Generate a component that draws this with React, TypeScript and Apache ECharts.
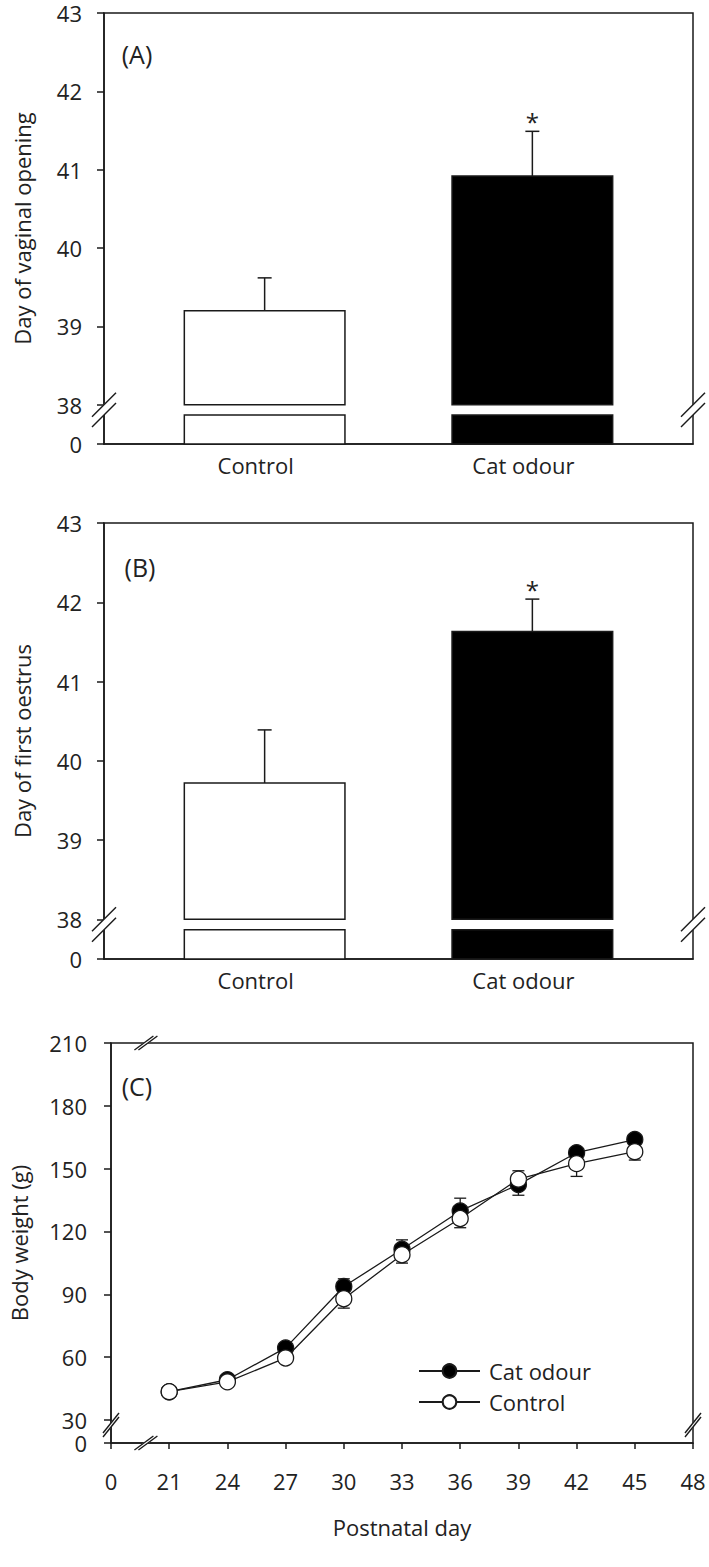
import React, { useEffect, useRef } from "react";
import * as echarts from "echarts";

// ---------- data ----------
const groups = ["Control", "Cat odour"];
const vaginalOpeningMean = [39.2, 40.92];
const vaginalOpeningSem = [0.42, 0.57];
const firstOestrusMean = [39.72, 41.63];
const firstOestrusSem = [0.67, 0.41];
const significant = [false, true];
const barTicks = [38, 39, 40, 41, 42, 43];

const days = [21, 24, 27, 30, 33, 36, 39, 42, 45];
const catWeight = [43.5, 49.2, 64.4, 93.7, 111.5, 129.8, 142.4, 157.6, 163.9];
const catSem = [1, 1.5, 2, 3.7, 4.5, 6.1, 5.1, 2, 2];
const controlWeight = [43.5, 48.2, 59.6, 87.9, 108.9, 126.2, 145, 152.4, 158.1];
const controlSem = [1, 1.5, 2, 4.5, 4, 4.4, 4, 6.1, 4];
const weightTicks = [30, 60, 90, 120, 150, 180, 210];
const dayTicks = [21, 24, 27, 30, 33, 36, 39, 42, 45, 48];

// ---------- display constants ----------
const FONT = '"Open Sans", "Noto Sans", sans-serif';
const INK = "#1a1a1a";
const TEXT = "#222";
const BAR_FILLS = ["#ffffff", "#000000"];

const BAR_AXIS_MIN = 37.5; // printed as "0" below the axis break
const BAR_AXIS_MAX = 43;
const BAR_BREAK_HIGH = 38;
const BAR_BREAK_LOW = 37.87;
const BAR_X_MIN = 0.4;
const BAR_X_MAX = 2.6;
const BAR_WIDTH = 0.6;

const W_AXIS_MIN = 19; // printed as "0"
const W_AXIS_MAX = 210;
const W_BREAK = 30;
const D_AXIS_MIN = 18; // printed as "0"
const D_AXIS_MAX = 48;
const D_BREAK = 19.8;

const lineSt = (w = 1.5) => ({ stroke: INK, lineWidth: w });

function slashPair(c1: number[], c2: number[], dx: number, dy: number) {
  return [
    {
      type: "polygon",
      shape: {
        points: [
          [c1[0] - dx, c1[1] + dy],
          [c1[0] + dx, c1[1] - dy],
          [c2[0] + dx, c2[1] - dy],
          [c2[0] - dx, c2[1] + dy],
        ],
      },
      style: { fill: "#ffffff", stroke: "#ffffff", lineWidth: 1 },
    },
    {
      type: "line",
      shape: { x1: c1[0] - dx, y1: c1[1] + dy, x2: c1[0] + dx, y2: c1[1] - dy },
      style: lineSt(1.4),
    },
    {
      type: "line",
      shape: { x1: c2[0] - dx, y1: c2[1] + dy, x2: c2[0] + dx, y2: c2[1] - dy },
      style: lineSt(1.4),
    },
  ];
}

function barPanel(
  idx: number,
  grid: any,
  means: number[],
  sems: number[],
  yName: string
) {
  const fmt = (v: number) =>
    Math.abs(v - BAR_AXIS_MIN) < 1e-6 ? "0" : String(Math.round(v));
  const xAxis = {
    type: "value",
    gridIndex: idx,
    min: BAR_X_MIN,
    max: BAR_X_MAX,
    splitLine: { show: false },
    axisLine: { show: true, lineStyle: { color: INK, width: 1.5 } },
    axisTick: { show: false },
    axisLabel: {
      customValues: [1, 2],
      formatter: (v: number) => groups[Math.round(v) - 1],
      color: TEXT,
      fontFamily: FONT,
      fontSize: 22,
      margin: 10,
      padding: [0, 18, 0, 0],
    },
  };
  const yAxis = {
    type: "value",
    gridIndex: idx,
    min: BAR_AXIS_MIN,
    max: BAR_AXIS_MAX,
    splitLine: { show: false },
    axisLine: { show: true, lineStyle: { color: INK, width: 1.5 } },
    axisTick: {
      show: true,
      inside: false,
      length: 7,
      customValues: [BAR_AXIS_MIN, ...barTicks],
      lineStyle: { color: INK, width: 1.5 },
    },
    axisLabel: {
      customValues: [BAR_AXIS_MIN, ...barTicks],
      formatter: fmt,
      color: TEXT,
      fontFamily: FONT,
      fontSize: 22,
      lineHeight: 20,
      margin: 22,
    },
    name: yName,
    nameLocation: "middle",
    nameRotate: 90,
    nameGap: 71,
    nameTextStyle: { color: TEXT, fontFamily: FONT, fontSize: 22 },
  };
  const barData = means.map((m, i) => [i + 1, m, sems[i], i]);
  const bars = {
    type: "custom",
    xAxisIndex: idx,
    yAxisIndex: idx,
    clip: false,
    z: 3,
    encode: { x: 0, y: 1 },
    data: barData,
    renderItem: (params: any, api: any) => {
      const x = api.value(0);
      const mean = api.value(1);
      const sem = api.value(2);
      const k = api.value(3);
      const top = api.coord([x, mean]);
      const hi = api.coord([x, BAR_BREAK_HIGH]);
      const lo = api.coord([x, BAR_BREAK_LOW]);
      const base = api.coord([x, BAR_AXIS_MIN]);
      const err = api.coord([x, mean + sem]);
      const w = api.size([BAR_WIDTH, 0])[0];
      const st = { fill: BAR_FILLS[k], stroke: INK, lineWidth: 1.5 };
      const children: any[] = [
        {
          type: "line",
          shape: { x1: top[0], y1: top[1], x2: top[0], y2: err[1] },
          style: lineSt(1.5),
        },
        {
          type: "line",
          shape: { x1: top[0] - 7, y1: err[1], x2: top[0] + 7, y2: err[1] },
          style: lineSt(1.5),
        },
        {
          type: "rect",
          shape: { x: top[0] - w / 2, y: top[1], width: w, height: hi[1] - top[1] },
          style: st,
        },
        {
          type: "rect",
          shape: { x: top[0] - w / 2, y: lo[1], width: w, height: base[1] - lo[1] },
          style: st,
        },
      ];
      if (significant[k]) {
        children.push({
          type: "text",
          style: {
            text: "*",
            x: top[0],
            y: err[1] - 10,
            align: "center",
            verticalAlign: "middle",
            fontFamily: FONT,
            fontSize: 24,
            fill: TEXT,
          },
        });
      }
      return { type: "group", children };
    },
  };
  const breaks = {
    type: "custom",
    xAxisIndex: idx,
    yAxisIndex: idx,
    clip: false,
    z: 4,
    silent: true,
    data: [[1, BAR_BREAK_HIGH]],
    renderItem: (params: any, api: any) => {
      const cs = params.coordSys;
      const yHi = api.coord([1, BAR_BREAK_HIGH])[1];
      const yLo = api.coord([1, BAR_BREAK_LOW])[1];
      const xl = cs.x;
      const xr = cs.x + cs.width;
      return {
        type: "group",
        children: [
          ...slashPair([xl, yHi], [xl, yLo], 12, 12),
          ...slashPair([xr, yHi], [xr, yLo], 12, 12),
        ],
      };
    },
  };
  return { grid, xAxis, yAxis, series: [bars, breaks] };
}

function buildOption() {
  const A = barPanel(
    0,
    { left: 104, top: 13, width: 589, height: 431 },
    vaginalOpeningMean,
    vaginalOpeningSem,
    "Day of vaginal opening"
  );
  const B = barPanel(
    1,
    { left: 104, top: 523, width: 589, height: 436 },
    firstOestrusMean,
    firstOestrusSem,
    "Day of first oestrus"
  );

  const gridC = { left: 104, top: 1043, width: 589, height: 400 };
  const xC = {
    type: "value",
    gridIndex: 2,
    min: D_AXIS_MIN,
    max: D_AXIS_MAX,
    splitLine: { show: false },
    axisLine: { show: true, lineStyle: { color: INK, width: 1.5 } },
    axisTick: {
      show: true,
      length: 6,
      customValues: [D_AXIS_MIN, ...dayTicks],
      lineStyle: { color: INK, width: 1.5 },
    },
    axisLabel: {
      customValues: [D_AXIS_MIN, ...dayTicks],
      formatter: (v: number) =>
        Math.abs(v - D_AXIS_MIN) < 1e-6 ? "0" : String(Math.round(v)),
      color: TEXT,
      fontFamily: FONT,
      fontSize: 22,
      margin: 27,
      hideOverlap: false,
    },
    name: "Postnatal day",
    nameLocation: "middle",
    nameGap: 73,
    nameTextStyle: { color: TEXT, fontFamily: FONT, fontSize: 22 },
  };
  const yC = {
    type: "value",
    gridIndex: 2,
    min: W_AXIS_MIN,
    max: W_AXIS_MAX,
    splitLine: { show: false },
    axisLine: { show: true, lineStyle: { color: INK, width: 1.5 } },
    axisTick: {
      show: true,
      length: 7,
      customValues: [W_AXIS_MIN, ...weightTicks],
      lineStyle: { color: INK, width: 1.5 },
    },
    axisLabel: {
      customValues: [W_AXIS_MIN, ...weightTicks],
      formatter: (v: number) =>
        Math.abs(v - W_AXIS_MIN) < 1e-6 ? "0" : String(Math.round(v)),
      color: TEXT,
      fontFamily: FONT,
      fontSize: 22,
      lineHeight: 20,
      margin: 24,
    },
    name: "Body weight (g)",
    nameLocation: "middle",
    nameRotate: 90,
    nameGap: 81,
    nameTextStyle: { color: TEXT, fontFamily: FONT, fontSize: 22 },
  };

  const errData: number[][] = [];
  days.forEach((d, i) => {
    const catUp = catWeight[i] >= controlWeight[i];
    errData.push([d, catWeight[i], catUp ? catSem[i] : -catSem[i]]);
    errData.push([d, controlWeight[i], catUp ? -controlSem[i] : controlSem[i]]);
  });
  const errSeries = {
    type: "custom",
    xAxisIndex: 2,
    yAxisIndex: 2,
    z: 1,
    silent: true,
    encode: { x: 0, y: 1 },
    data: errData,
    renderItem: (params: any, api: any) => {
      const x = api.value(0);
      const v = api.value(1);
      const e = api.value(2);
      const p = api.coord([x, v]);
      const q = api.coord([x, v + e]);
      return {
        type: "group",
        children: [
          { type: "line", shape: { x1: p[0], y1: p[1], x2: q[0], y2: q[1] }, style: lineSt(1.3) },
          { type: "line", shape: { x1: q[0] - 6, y1: q[1], x2: q[0] + 6, y2: q[1] }, style: lineSt(1.3) },
        ],
      };
    },
  };
  const catSeries = {
    name: "Cat odour",
    type: "line",
    xAxisIndex: 2,
    yAxisIndex: 2,
    z: 2,
    data: days.map((d, i) => [d, catWeight[i]]),
    symbol: "circle",
    symbolSize: 16,
    lineStyle: { color: INK, width: 1.3 },
    itemStyle: { color: "#000", borderColor: INK, borderWidth: 1.3 },
  };
  const ctrlSeries = {
    name: "Control",
    type: "line",
    xAxisIndex: 2,
    yAxisIndex: 2,
    z: 3,
    data: days.map((d, i) => [d, controlWeight[i]]),
    symbol: "circle",
    symbolSize: 16,
    lineStyle: { color: INK, width: 1.3 },
    itemStyle: { color: "#fff", borderColor: INK, borderWidth: 1.3 },
  };
  const breaksC = {
    type: "custom",
    xAxisIndex: 2,
    yAxisIndex: 2,
    clip: false,
    z: 4,
    silent: true,
    data: [[D_BREAK, W_BREAK]],
    renderItem: (params: any, api: any) => {
      const cs = params.coordSys;
      const yb = api.coord([D_AXIS_MIN, W_BREAK])[1] + 5;
      const xb = api.coord([D_BREAK, W_BREAK])[0];
      const xl = cs.x;
      const xr = cs.x + cs.width;
      const yt = cs.y;
      const ybot = cs.y + cs.height;
      return {
        type: "group",
        children: [
          ...slashPair([xl, yb - 2], [xl, yb + 2], 8, 10),
          ...slashPair([xr, yb - 2], [xr, yb + 2], 8, 10),
          ...slashPair([xb - 2, ybot], [xb + 2, ybot], 9.5, 7),
          ...slashPair([xb - 2, yt], [xb + 2, yt], 9.5, 7),
        ],
      };
    },
  };

  const gridStyle = { show: true, borderColor: INK, borderWidth: 1.5, backgroundColor: "transparent" };

  const label = (t: string, x: number, y: number) => ({
    type: "text",
    x,
    y,
    style: {
      text: t,
      align: "center",
      verticalAlign: "middle",
      fontFamily: FONT,
      fontSize: 25,
      fill: TEXT,
    },
  });

  return {
    animation: false,
    backgroundColor: "#ffffff",
    grid: [
      { ...A.grid, ...gridStyle },
      { ...B.grid, ...gridStyle },
      { ...gridC, ...gridStyle },
    ],
    xAxis: [A.xAxis, B.xAxis, xC],
    yAxis: [A.yAxis, B.yAxis, yC],
    legend: {
      orient: "vertical",
      left: 418,
      top: 1360,
      padding: 0,
      itemWidth: 61,
      itemHeight: 17,
      itemGap: 9,
      data: ["Cat odour", "Control"],
      textStyle: { color: TEXT, fontFamily: FONT, fontSize: 22, padding: [0, 0, 0, 4] },
    },
    graphic: [label("(A)", 137, 54), label("(B)", 140, 567), label("(C)", 137, 1086)],
    series: [...A.series, ...B.series, errSeries, catSeries, ctrlSeries, breaksC],
  };
}

export default function App() {
  const ref = useRef<HTMLDivElement>(null);
  useEffect(() => {
    if (!ref.current) return;
    const chart = echarts.init(ref.current, null, { renderer: "svg" });
    chart.setOption(buildOption() as any);
    return () => chart.dispose();
  }, []);
  return (
    <div
      ref={ref}
      style={{ position: "absolute", left: 0, top: 0, width: 709, height: 1567, background: "#fff" }}
    />
  );
}
